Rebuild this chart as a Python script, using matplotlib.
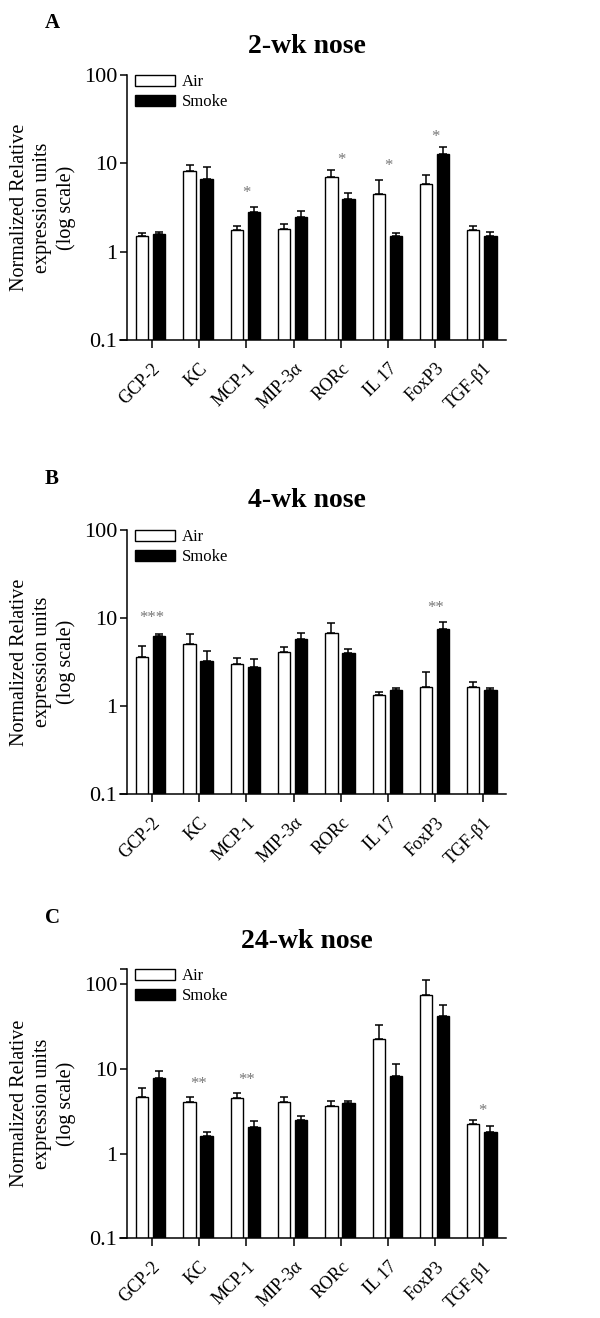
import matplotlib
matplotlib.use('Agg')
import matplotlib.pyplot as plt
import numpy as np

plt.rcParams['font.family'] = ['Liberation Serif', 'DejaVu Serif']

# Genes on the x axis
genes = ['GCP-2', 'KC', 'MCP-1', 'MIP-3α', 'RORc', 'IL 17', 'FoxP3', 'TGF-β1']

# 2-wk nose
air_2wk = [1.52, 8.26, 1.76, 1.79, 6.96, 4.47, 5.80, 1.76]
air_2wk_err = [0.11, 1.41, 0.21, 0.28, 1.46, 2.02, 1.53, 0.21]
smoke_2wk = [1.57, 6.65, 2.79, 2.49, 3.92, 1.51, 12.7, 1.51]
smoke_2wk_err = [0.08, 2.55, 0.44, 0.42, 0.66, 0.13, 2.8, 0.18]
stars_2wk = [(2, '*', 4.58), (4, '*', 10.9), (5, '*', 9.4), (6, '*', 20.0)]

# 4-wk nose
air_4wk = [3.6, 5.1, 3.02, 4.17, 6.74, 1.33, 1.66, 1.66]
air_4wk_err = [1.2, 1.52, 0.46, 0.5, 2.09, 0.12, 0.77, 0.23]
smoke_4wk = [6.29, 3.3, 2.79, 5.81, 4.0, 1.51, 7.55, 1.53]
smoke_4wk_err = [0.33, 0.91, 0.6, 0.99, 0.43, 0.1, 1.51, 0.1]
stars_4wk = [(0, '***', 10.1), (6, '**', 13.1)]

# 24-wk nose
air_24wk = [4.63, 4.0, 4.46, 4.0, 3.62, 22.6, 73.5, 2.22]
air_24wk_err = [1.23, 0.67, 0.75, 0.67, 0.57, 9.9, 38.5, 0.28]
smoke_24wk = [7.76, 1.59, 2.08, 2.48, 3.89, 8.27, 41.9, 1.80]
smoke_24wk_err = [1.54, 0.18, 0.33, 0.31, 0.22, 3.23, 14.6, 0.32]
stars_24wk = [(1, '**', 6.59), (2, '**', 7.41), (7, '*', 3.19)]

panels = [
    ('A', '2-wk nose', air_2wk, air_2wk_err, smoke_2wk, smoke_2wk_err, stars_2wk, 100),
    ('B', '4-wk nose', air_4wk, air_4wk_err, smoke_4wk, smoke_4wk_err, stars_4wk, 100),
    ('C', '24-wk nose', air_24wk, air_24wk_err, smoke_24wk, smoke_24wk_err, stars_24wk, 150),
]

# pixel layout (top, bottom of axes; title baseline; letter baseline)
tops = [75, 530, 969]
bottoms = [340, 794.3, 1238.3]
title_y = [53, 507, 948]
letter_y = [28, 484, 923]

W, H = 600, 1318
fig = plt.figure(figsize=(W / 100, H / 100), dpi=100)

ax_left, ax_right = 120, 506
first_tick, spacing = 151.7, 47.3
x = np.arange(len(genes))
bw = 0.26

for i, (letter, title, air, air_err, smoke, smoke_err, stars, ytop) in enumerate(panels):
    ax = fig.add_axes([ax_left / W, 1 - bottoms[i] / H,
                       (ax_right - ax_left) / W, (bottoms[i] - tops[i]) / H])
    ax.set_yscale('log')
    ax.bar(x - 0.2, air, bw, color='white', edgecolor='black', linewidth=1.0,
           label='Air', zorder=2)
    ax.bar(x + 0.16, smoke, bw, color='black', edgecolor='black', linewidth=1.0,
           label='Smoke', zorder=2)
    ax.errorbar(x - 0.2, air, yerr=[np.zeros(len(air)), air_err], fmt='none',
                ecolor='black', elinewidth=1.1, capsize=3, capthick=1.1, zorder=1)
    ax.errorbar(x + 0.16, smoke, yerr=[np.zeros(len(smoke)), smoke_err], fmt='none',
                ecolor='black', elinewidth=1.1, capsize=3, capthick=1.1, zorder=1)

    # significance stars
    for idx, s, yv in stars:
        ax.text(idx, yv, s, ha='center', va='center', fontsize=12, color='#777777')

    ax.set_ylim(0.1, ytop)
    ax.set_xlim((ax_left - first_tick) / spacing, (ax_right - first_tick) / spacing)
    ax.set_yticks([0.1, 1, 10, 100])
    ax.set_yticklabels(['0.1', '1', '10', '100'])
    ax.yaxis.set_minor_locator(matplotlib.ticker.NullLocator())
    ax.yaxis.set_minor_formatter(matplotlib.ticker.NullFormatter())
    if ytop > 100:
        ax.set_yticks([ytop], minor=True)
        ax.set_yticklabels([''], minor=True)
        ax.tick_params(axis='y', which='minor', length=5, width=1.1)
    ax.set_xticks(x)
    ax.set_xticklabels(genes, rotation=45, ha='right', rotation_mode='anchor',
                       fontsize=13)
    ax.tick_params(axis='y', which='major', labelsize=16, length=5, width=1.1, pad=2)
    ax.tick_params(axis='x', length=5.5, width=1.1, pad=9)

    ax.spines['top'].set_visible(False)
    ax.spines['right'].set_visible(False)
    ax.spines['left'].set_position(('data', (127 - first_tick) / spacing))
    ax.spines['left'].set_linewidth(1.1)
    ax.spines['bottom'].set_linewidth(1.1)

    ax.legend(loc='upper left', bbox_to_anchor=(0.04, 1.003), frameon=False,
              fontsize=12, handlelength=2.4, handleheight=0.7, labelspacing=0.25,
              borderpad=0, borderaxespad=0, handletextpad=0.4)

    fig.text(307 / W, 1 - title_y[i] / H, title, ha='center', va='baseline',
             fontsize=20, fontweight='bold')
    fig.text(45 / W, 1 - letter_y[i] / H, letter, ha='left', va='baseline',
             fontsize=15, fontweight='bold')
    fig.text(43 / W, 1 - (tops[i] + bottoms[i]) / 2 / H,
             'Normalized Relative\nexpression units\n(log scale)',
             rotation=90, ha='center', va='center', multialignment='center',
             fontsize=14.5, linespacing=1.32)

plt.savefig('out.png', dpi=100)
